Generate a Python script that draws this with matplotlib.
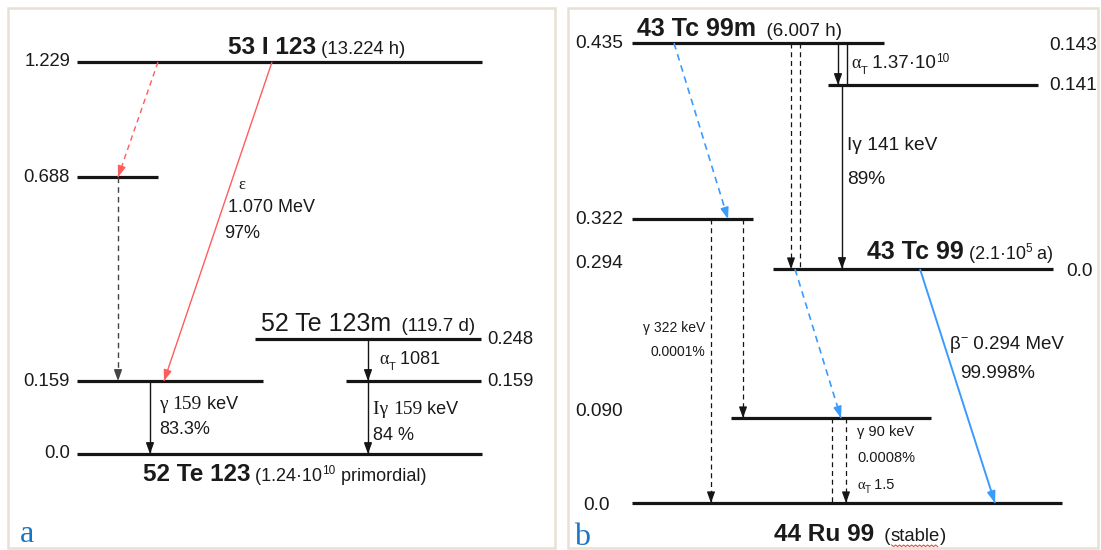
import numpy as np
import matplotlib
matplotlib.use("Agg")
import matplotlib.pyplot as plt
from matplotlib import font_manager as fm
from matplotlib.patches import Rectangle

_names = {f.name for f in fm.fontManager.ttflist}
NARROW = "Liberation Sans Narrow" in _names
SANS = "Liberation Sans Narrow" if NARROW else "Liberation Sans"
SERIF = "Liberation Serif"
# regular Liberation Sans is wider than the condensed face of the reference
WF = 1.15 if NARROW else 1.0

# ------------------------------------------------------------------ data
# Panel a : 53 I 123 decay scheme
a_parent = "53 I 123"
a_parent_halflife = "(13.224 h)"
a_meta = "52 Te 123m"
a_meta_halflife = "(119.7 d)"
a_daughter = "52 Te 123"
a_daughter_note = ["(1.24·10", "10", " primordial)"]
a_level_labels = ["1.229", "0.688", "0.159", "0.248", "0.159", "0.0"]
a_ec_energy = "1.070 MeV"
a_ec_branch = "97%"
a_gamma1 = ["159", " keV", "83.3%"]
a_gamma2 = ["159", " keV", "84 %"]
a_alphaT = "1081"

# Panel b : 43 Tc 99m decay scheme
b_parent = "43 Tc 99m"
b_parent_halflife = "(6.007 h)"
b_tc99 = "43 Tc 99"
b_tc99_halflife = ["(2.1·10", "5", " a)"]
b_daughter = "44 Ru 99"
b_daughter_note = "stable"
b_left_labels = ["0.435", "0.322", "0.294", "0.090", "0.0"]
b_right_labels = ["0.143", "0.141", "0.0"]
b_alphaT = ["1.37·10", "10"]
b_gamma141 = ["Iγ 141 keV", "89%"]
b_gamma322 = ["γ 322 keV", "0.0001%"]
b_beta = ["0.294 MeV", "99.998%"]
b_gamma90 = ["γ 90 keV", "0.0008%", "1.5"]

# ------------------------------------------------------------------ layout
# level lines: (y, x0, x1)
a_lines = [(62, 77, 482), (177, 77, 158), (381, 77, 263),
           (339, 255, 481), (381, 346, 481), (454, 77, 482)]
a_label_pos = [(70, 62, "R"), (70, 177, "R"), (70, 381, "R"),
               (487, 339, "L"), (487, 381, "L"), (70, 454, "R")]
b_lines = [(43, 632, 884), (85, 828, 1038), (219, 632, 753),
           (269, 773, 1053), (418, 731, 931), (503, 632, 1062)]
b_left_pos = [(623, 44), (623, 219), (623, 264), (623, 412), (610, 505)]
b_right_pos = [(1049, 45), (1049, 85), (1066, 272)]

TXT = "#1a1a1a"
LINE = "#151515"
RED = "#ff5c5c"
BLUE = "#3a9bff"
GRAY = "#444444"
FRAME = "#e6e1d2"
LETTER = "#1b75c2"
PX = 100 / 72.0

fig = plt.figure(figsize=(11.01, 5.5), dpi=100)
ax = fig.add_axes([0, 0, 1, 1])
ax.set_xlim(0, 1101)
ax.set_ylim(550, 0)
ax.axis("off")
renderer = fig.canvas.get_renderer()


def fs(s):
    return s * WF


def txt(x, y, s, size, family=None, **kw):
    kw.setdefault("va", "center")
    kw.setdefault("ha", "left")
    return ax.text(x, y, s, fontsize=fs(size), family=family or SANS, color=TXT, **kw)


def run(x, yc, pieces, ha="left", color=TXT):
    """pieces: list of (text, size, family, weight, dy)"""
    base = yc + 0.36 * fs(pieces[0][1]) * PX
    arts, cx = [], x
    for t_, size, fam, wt, dy in pieces:
        t = ax.text(cx, base + dy, t_, fontsize=fs(size), family=fam, weight=wt,
                    va="baseline", ha="left", color=color)
        w = t.get_window_extent(renderer).width
        arts.append(t)
        cx += w
    if ha == "right":
        shift = cx - x
        for t in arts:
            t.set_x(t.get_position()[0] - shift)
    return arts


def arrow(x0, y0, x1, y1, color=LINE, dashed=False, lw=1.0, head=True):
    kw = dict(color=color, lw=lw, solid_capstyle="butt")
    if dashed:
        ax.plot([x0, x1], [y0, y1], dashes=(4, 3), **kw)
    else:
        ax.plot([x0, x1], [y0, y1], **kw)
    if head:
        d = np.hypot(x1 - x0, y1 - y0)
        ux, uy = (x1 - x0) / d, (y1 - y0) / d
        ax.annotate("", xy=(x1, y1), xytext=(x1 - ux * 8, y1 - uy * 8),
                    arrowprops=dict(arrowstyle="-|>,head_length=0.55,head_width=0.2",
                                    color=color, lw=lw, shrinkA=0, shrinkB=0,
                                    mutation_scale=12))


# frames
ax.add_patch(Rectangle((8, 8), 547, 540, fill=False, ec=FRAME, lw=1.8))
ax.add_patch(Rectangle((568, 8), 530, 540, fill=False, ec=FRAME, lw=1.8))

# ------------------------------------------------------------------ panel a
for (y, x0, x1) in a_lines:
    ax.plot([x0, x1], [y, y], color=LINE, lw=2.3, solid_capstyle="butt")
for lab, (x, y, side) in zip(a_level_labels, a_label_pos):
    txt(x, y, lab, 13.3, ha="right" if side == "R" else "left")

run(228, 45, [(a_parent, 17.6, SANS, "bold", 0), (" " + a_parent_halflife, 13.3, SANS, "normal", 0)])
run(261, 322, [(a_meta, 18, SANS, "normal", 0), ("  " + a_meta_halflife, 13.5, SANS, "normal", 0)])
run(143, 472, [(a_daughter, 17.5, SANS, "bold", 0), (" " + a_daughter_note[0], 13, SANS, "normal", 0),
               (a_daughter_note[1], 8.5, SANS, "normal", -7), (a_daughter_note[2], 13, SANS, "normal", 0)])

# transitions panel a
arrow(158, 62, 118, 177, color=RED, dashed=True, lw=1.0)
arrow(118, 177, 118, 381, color=GRAY, dashed=True, lw=1.0)
arrow(272, 62, 164, 381, color=RED, lw=1.0)
arrow(150, 381, 150, 454, color=LINE, lw=1.0)
arrow(368, 339, 368, 381, color=LINE, lw=1.0)
arrow(368, 381, 368, 454, color=LINE, lw=1.0)

txt(238, 185, "ε", 12, family=SERIF)
txt(228, 207, a_ec_energy, 13)
txt(224, 233, a_ec_branch, 13)

run(159, 402, [("γ ", 14, SERIF, "normal", 0), (a_gamma1[0], 14, SERIF, "normal", 0),
               (a_gamma1[1], 13, SANS, "normal", 0)])
txt(159, 430, a_gamma1[2], 13)
run(373, 407, [("Iγ ", 14, SERIF, "normal", 0), (a_gamma2[0], 14, SERIF, "normal", 0),
               (a_gamma2[1], 13, SANS, "normal", 0)])
txt(373, 435, a_gamma2[2], 13)
run(379, 358, [("α", 13, SERIF, "normal", 0), ("T", 8, SANS, "normal", 5),
               (" " + a_alphaT, 13, SANS, "normal", 0)])

ax.text(20, 542, "a", fontsize=23, family=SERIF, color=LETTER, ha="left", va="baseline")

# ------------------------------------------------------------------ panel b
for (y, x0, x1) in b_lines:
    ax.plot([x0, x1], [y, y], color=LINE, lw=2.3, solid_capstyle="butt")
for lab, (x, y) in zip(b_left_labels, b_left_pos):
    txt(x, y, lab, 13.8, ha="right")
for lab, (x, y) in zip(b_right_labels, b_right_pos):
    txt(x, y, lab, 13.8)

run(637, 27, [(b_parent, 18, SANS, "bold", 0), ("  " + b_parent_halflife, 13.5, SANS, "normal", 0)])
run(867, 250, [(b_tc99, 18, SANS, "bold", 0), (" " + b_tc99_halflife[0], 13, SANS, "normal", 0),
               (b_tc99_halflife[1], 8.5, SANS, "normal", -7), (b_tc99_halflife[2], 13, SANS, "normal", 0)])
arts = run(774, 532, [(b_daughter, 17.6, SANS, "bold", 0), ("  (", 13.3, SANS, "normal", 0),
                      (b_daughter_note, 13.3, SANS, "normal", 0), (")", 13.3, SANS, "normal", 0)])
# red spell-check squiggle under "stable"
bb = arts[2].get_window_extent(renderer)
xs = np.arange(bb.x0 + 1, bb.x1 - 1, 2.0)
ys = 545 + np.where(np.arange(len(xs)) % 2 == 0, 0, 1.6)
ax.plot(xs, ys, color="#e05050", lw=0.8)

# transitions panel b
arrow(838, 43, 838, 85, lw=1.0)
arrow(847, 43, 847, 85, lw=1.0, head=False)
arrow(791, 43, 791, 269, dashed=True, lw=0.9)
arrow(800, 43, 800, 269, dashed=True, lw=0.9, head=False)
arrow(842, 85, 842, 269, lw=1.0)
arrow(674, 43, 728, 219, color=BLUE, dashed=True, lw=1.2)
arrow(711, 219, 711, 503, dashed=True, lw=0.9)
arrow(743, 219, 743, 418, dashed=True, lw=0.9)
arrow(795, 269, 841, 418, color=BLUE, dashed=True, lw=1.2)
arrow(920, 269, 995, 503, color=BLUE, lw=1.4)
arrow(832, 418, 832, 503, dashed=True, lw=0.9, head=False)
arrow(846, 418, 846, 503, dashed=True, lw=0.9)

run(851, 62, [("α", 13, SERIF, "normal", 0), ("T", 8, SANS, "normal", 5),
              (" " + b_alphaT[0], 13.5, SANS, "normal", 0), (b_alphaT[1], 8.5, SANS, "normal", -7)])
txt(847, 145, b_gamma141[0], 13.8)
txt(847, 179, b_gamma141[1], 13.8)
txt(705, 328, b_gamma322[0], 10, ha="right")
txt(705, 352, b_gamma322[1], 10, ha="right")
run(950, 342, [("β", 13.5, SANS, "normal", 0), ("−", 9, SANS, "normal", -7),
               (" " + b_beta[0], 13.5, SANS, "normal", 0)])
txt(960, 374, b_beta[1], 13.8)
txt(857, 432, b_gamma90[0], 10.5)
txt(857, 458, b_gamma90[1], 10.5)
run(857, 484, [("α", 10.5, SERIF, "normal", 0), ("T", 7, SANS, "normal", 4),
               (" " + b_gamma90[2], 10.5, SANS, "normal", 0)])

ax.text(574, 545, "b", fontsize=23, family=SERIF, color=LETTER, ha="left", va="baseline")

fig.savefig("out.png", dpi=100)
